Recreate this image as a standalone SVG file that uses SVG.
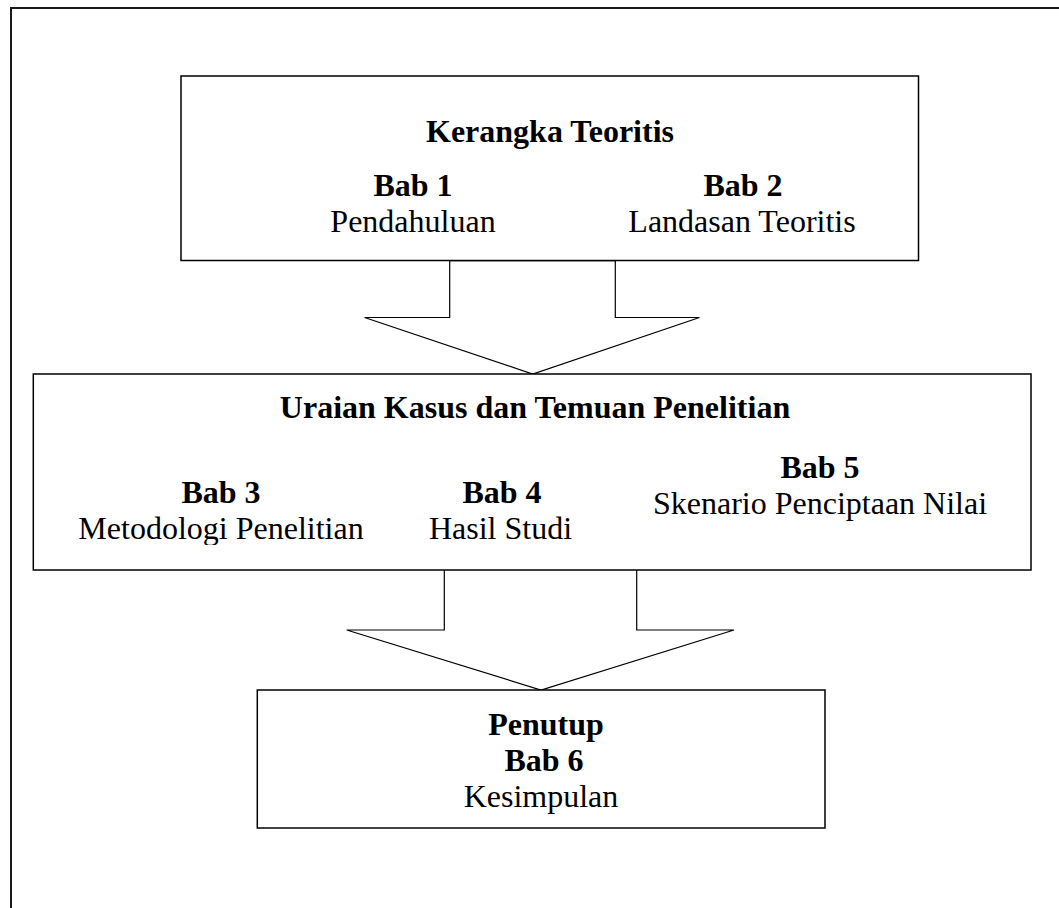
<svg xmlns="http://www.w3.org/2000/svg" width="1059" height="908" viewBox="0 0 1059 908">
<style>
  .box { fill: #ffffff; stroke: #000000; stroke-width: 1.5; }
  .frame { fill: none; stroke: #1a1a1a; stroke-width: 2; }
  .arrow { fill: #ffffff; stroke: #000000; stroke-width: 1.2; stroke-linejoin: miter; }
  text { font-family: "Liberation Serif", "Times New Roman", serif; font-size: 32px; fill: #000000; text-anchor: middle; }
  .b { font-weight: bold; }
</style>
<defs>
  <clipPath id="clipMid"><rect x="33" y="374" width="998" height="171"/></clipPath>
</defs>
<rect x="0" y="0" width="1059" height="908" fill="#ffffff"/>
<path class="frame" d="M11,908 V8 H1059"/>

<g id="connectors">
  <polygon id="arrow1" class="arrow" points="449.7,260.7 615.3,260.7 615.3,317.5 699.5,317.5 532.7,374 364.6,317.5 449.7,317.5"/>
  <polygon id="arrow2" class="arrow" points="444.3,569.5 636.7,569.5 636.7,630 734,630 541,690 346.7,630 444.3,630"/>
</g>

<g id="node-kerangka">
  <rect class="box" x="181" y="76" width="737.5" height="184.5"/>
  <text class="b" x="550" y="142">Kerangka Teoritis</text>
  <text class="b" x="413" y="196">Bab 1</text>
  <text x="413" y="232">Pendahuluan</text>
  <text class="b" x="743" y="196">Bab 2</text>
  <text x="742" y="232">Landasan Teoritis</text>
</g>

<g id="node-uraian">
  <rect class="box" x="33.3" y="374" width="997.7" height="196"/>
  <text class="b" x="535" y="418">Uraian Kasus dan Temuan Penelitian</text>
  <text class="b" x="221" y="503">Bab 3</text>
  <text x="221" y="539" clip-path="url(#clipMid)">Metodologi Penelitian</text>
  <text class="b" x="502" y="503">Bab 4</text>
  <text x="500.5" y="539">Hasil Studi</text>
  <text class="b" x="820" y="478">Bab 5</text>
  <text x="820" y="514">Skenario Penciptaan Nilai</text>
</g>

<g id="node-penutup">
  <rect class="box" x="257.3" y="690" width="567.7" height="138"/>
  <text class="b" x="546" y="735">Penutup</text>
  <text class="b" x="544" y="771">Bab 6</text>
  <text x="541" y="807">Kesimpulan</text>
</g>
</svg>
